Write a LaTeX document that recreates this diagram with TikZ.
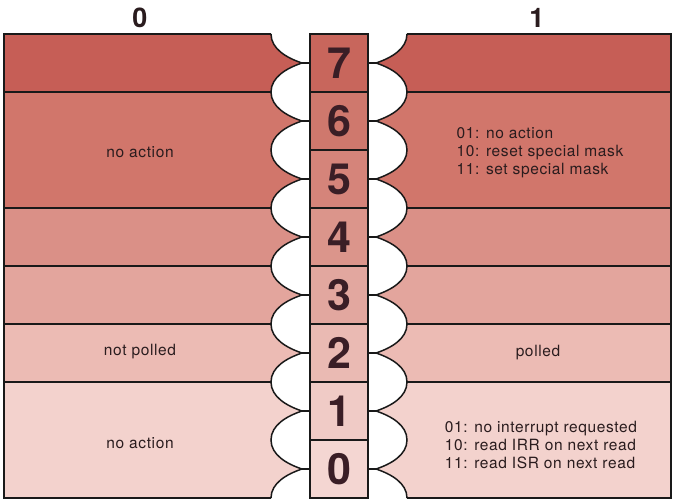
\documentclass[tikz,border=0pt]{standalone}
\usepackage{fontspec}
\setmainfont{TeX Gyre Heros}
\newfontfamily\bodyfont[LetterSpace=4]{TeX Gyre Heros}
\definecolor{r7}{HTML}{C65E56}
\definecolor{r65}{HTML}{D1766B}
\definecolor{r4}{HTML}{DA9087}
\definecolor{r3}{HTML}{E3A59D}
\definecolor{r2}{HTML}{ECBBB4}
\definecolor{r10}{HTML}{F3D2CD}
\definecolor{c7}{HTML}{C8665C}
\definecolor{c6}{HTML}{CF786D}
\definecolor{c5}{HTML}{D5847A}
\definecolor{c4}{HTML}{DB958B}
\definecolor{c3}{HTML}{E2A79F}
\definecolor{c2}{HTML}{EABAB3}
\definecolor{c1}{HTML}{F0CBC6}
\definecolor{c0}{HTML}{F4D6D2}
\definecolor{digit}{HTML}{3A1E26}
\definecolor{txt}{HTML}{2A1C1E}
\begin{document}
\begin{tikzpicture}[x=1pt,y=-1pt,
  edge/.style={line width=1.5pt, draw=black!90},
  colbox/.style={draw=black!90, line width=2.6pt, minimum width=58pt, minimum height=58pt, inner sep=0pt, font=\fontsize{43}{43}\selectfont\bfseries, text=digit},
  lbl/.style={font=\bodyfont\fontsize{15.5}{18}\selectfont, text=txt, align=left},
  hdr/.style={font=\fontsize{27}{27}\selectfont\bfseries, text=txt}]
\useasboundingbox (0,0) rectangle (673,501);
% ---- left panel fills
\fill[r7] (4,34) -- (271,34) \foreach \b in {34}{ .. controls (271,\b+15) and (287,\b+24) .. (302,\b+29) .. controls (287,\b+34) and (271,\b+43) .. (271,\b+58) } -- (4,92) -- cycle;
\fill[r65] (4,92) -- (271,92) \foreach \b in {92,150}{ .. controls (271,\b+15) and (287,\b+24) .. (302,\b+29) .. controls (287,\b+34) and (271,\b+43) .. (271,\b+58) } -- (4,208) -- cycle;
\fill[r4] (4,208) -- (271,208) \foreach \b in {208}{ .. controls (271,\b+15) and (287,\b+24) .. (302,\b+29) .. controls (287,\b+34) and (271,\b+43) .. (271,\b+58) } -- (4,266) -- cycle;
\fill[r3] (4,266) -- (271,266) \foreach \b in {266}{ .. controls (271,\b+15) and (287,\b+24) .. (302,\b+29) .. controls (287,\b+34) and (271,\b+43) .. (271,\b+58) } -- (4,324) -- cycle;
\fill[r2] (4,324) -- (271,324) \foreach \b in {324}{ .. controls (271,\b+15) and (287,\b+24) .. (302,\b+29) .. controls (287,\b+34) and (271,\b+43) .. (271,\b+58) } -- (4,382) -- cycle;
\fill[r10] (4,382) -- (271,382) \foreach \b in {382,440}{ .. controls (271,\b+15) and (287,\b+24) .. (302,\b+29) .. controls (287,\b+34) and (271,\b+43) .. (271,\b+58) } -- (4,498) -- cycle;
% ---- right panel fills
\fill[r7] (671,34) -- (407,34) \foreach \b in {34}{ .. controls (407,\b+15) and (391,\b+24) .. (376,\b+29) .. controls (391,\b+34) and (407,\b+43) .. (407,\b+58) } -- (671,92) -- cycle;
\fill[r65] (671,92) -- (407,92) \foreach \b in {92,150}{ .. controls (407,\b+15) and (391,\b+24) .. (376,\b+29) .. controls (391,\b+34) and (407,\b+43) .. (407,\b+58) } -- (671,208) -- cycle;
\fill[r4] (671,208) -- (407,208) \foreach \b in {208}{ .. controls (407,\b+15) and (391,\b+24) .. (376,\b+29) .. controls (391,\b+34) and (407,\b+43) .. (407,\b+58) } -- (671,266) -- cycle;
\fill[r3] (671,266) -- (407,266) \foreach \b in {266}{ .. controls (407,\b+15) and (391,\b+24) .. (376,\b+29) .. controls (391,\b+34) and (407,\b+43) .. (407,\b+58) } -- (671,324) -- cycle;
\fill[r2] (671,324) -- (407,324) \foreach \b in {324}{ .. controls (407,\b+15) and (391,\b+24) .. (376,\b+29) .. controls (391,\b+34) and (407,\b+43) .. (407,\b+58) } -- (671,382) -- cycle;
\fill[r10] (671,382) -- (407,382) \foreach \b in {382,440}{ .. controls (407,\b+15) and (391,\b+24) .. (376,\b+29) .. controls (391,\b+34) and (407,\b+43) .. (407,\b+58) } -- (671,498) -- cycle;
% ---- outlines
\draw[edge] (271,34) -- (4,34) -- (4,498) -- (271,498);
\draw[edge] (407,34) -- (671,34) -- (671,498) -- (407,498);
\draw[edge] (271,34) \foreach \b in {34,92,...,440}{ .. controls (271,\b+15) and (287,\b+24) .. (302,\b+29) .. controls (287,\b+34) and (271,\b+43) .. (271,\b+58) };
\draw[edge] (407,34) \foreach \b in {34,92,...,440}{ .. controls (407,\b+15) and (391,\b+24) .. (376,\b+29) .. controls (391,\b+34) and (407,\b+43) .. (407,\b+58) };
\foreach \y in {92,208,266,324,382}{
  \draw[edge] (4,\y) -- (271,\y);
  \draw[edge] (407,\y) -- (671,\y);
}
% ---- column of bits
\foreach \d in {7,6,...,0}{
  \node[colbox, fill=c\d] (b\d) at (339,{63+(7-\d)*58}) {\d};
}
\foreach \d in {7,6,...,0}{
  \draw[edge] (b\d.west) -- ++(-8,0);
  \draw[edge] (b\d.east) -- ++(8,0);
}
% ---- headers
\node[hdr] (h0) at (140,18) {0};
\node[hdr] (h1) at (537,18) {1};
% ---- labels
\node[lbl] (l65) at (140,152) {no action};
\node[lbl] (l2) at (140,352) {not polled};
\node[lbl] (l10) at (140,443) {no action};
\node[lbl] (r65t) at (540,153) {01: no action\\10: reset special mask\\11: set special mask};
\node[lbl] (r2t) at (538,353) {polled};
\node[lbl] (r10t) at (541,445) {01: no interrupt requested\\10: read IRR on next read\\11: read ISR on next read};
\end{tikzpicture}
\end{document}
